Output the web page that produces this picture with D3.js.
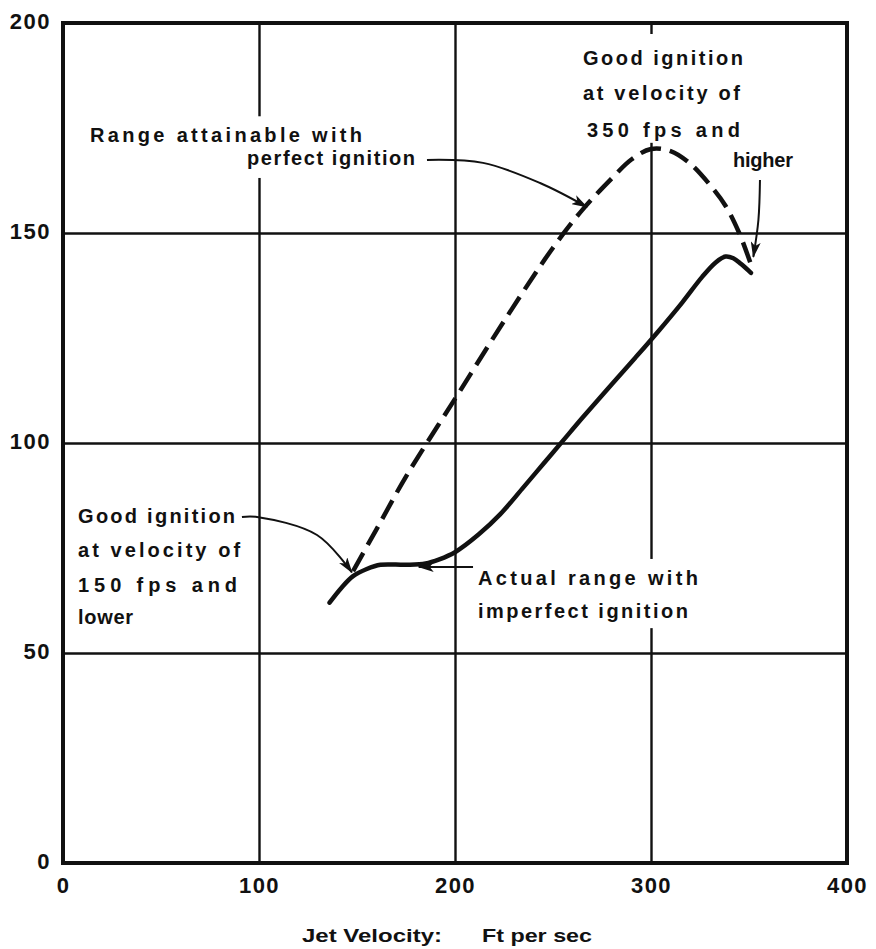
<!DOCTYPE html>
<html>
<head>
<meta charset="utf-8">
<script src="https://cdn.jsdelivr.net/npm/d3@7"></script>
<style>
  body { margin: 0; background: #fff; }
  svg text { font-family: "Liberation Sans", Arial, sans-serif; font-weight: bold; fill: #111; }
</style>
</head>
<body>
<div id="chart"></div>
<script>
// range curves (x = jet velocity ft/sec, y = range)
let perfect_x = [148, 160, 175, 200, 225, 250, 265, 280, 290, 300, 310, 320, 330, 338, 345, 351];
let perfect_y = [69.5, 79.5, 92, 110.5, 129, 146.5, 155.5, 163, 167.5, 170, 169.5, 166.5, 161.5, 156.5, 150, 142.5];
let actual_x = [136, 142, 148, 155, 162, 175, 185, 192, 200, 212, 223, 235, 245, 255, 265, 280, 292, 303, 316, 326, 333, 338, 342, 346, 351];
let actual_y = [62, 65.5, 68.3, 70, 71, 71, 71.3, 72.3, 74, 78.2, 83, 89.5, 95, 100.5, 106, 114, 120.3, 126.2, 133.5, 139.5, 143, 144.4, 144, 142.6, 140.5];
let x_ticks = [0, 100, 200, 300, 400];
let y_ticks = [0, 50, 100, 150, 200];
let x_title = ["Jet Velocity:", "Ft per sec"];

let chart_width = 876;
let chart_height = 949;
let margin = { top: 23, right: 29, bottom: 86, left: 63 };
let w = chart_width - margin.left - margin.right;
let h = chart_height - margin.top - margin.bottom;

let svg = d3.select("#chart").append("svg")
  .attr("width", chart_width)
  .attr("height", chart_height);

let x_scale = d3.scaleLinear().domain([0, 400]).range([margin.left, margin.left + w]);
let y_scale = d3.scaleLinear().domain([0, 200]).range([margin.top + h, margin.top]);

// arrow head
svg.append("defs").append("marker")
  .attr("id", "head")
  .attr("markerUnits", "userSpaceOnUse")
  .attr("viewBox", "0 0 16 10")
  .attr("markerWidth", 16).attr("markerHeight", 10)
  .attr("refX", 15).attr("refY", 5)
  .attr("orient", "auto")
  .append("path").attr("d", "M0,0 L16,5 L0,10 L4,5 Z").attr("fill", "#111");

/* grid */
let gx = svg.append("g")
  .attr("transform", "translate(0," + (margin.top + h) + ")")
  .call(d3.axisBottom(x_scale).tickValues(x_ticks).tickSize(-h).tickPadding(14));
let gy = svg.append("g")
  .attr("transform", "translate(" + margin.left + ",0)")
  .call(d3.axisLeft(y_scale).tickValues(y_ticks).tickSize(-w).tickPadding(12));
[gx, gy].forEach(function (g) {
  g.select(".domain").remove();
  g.selectAll(".tick line").attr("stroke", "#111").attr("stroke-width", 2.4);
  g.selectAll(".tick text")
    .attr("font-size", 22)
    .attr("letter-spacing", 1.5)
    .attr("fill", "#111")
    .attr("font-family", "Liberation Sans, Arial, sans-serif")
    .attr("font-weight", "bold");
});
gy.selectAll(".tick text").attr("dy", "0.25em");

// frame
svg.append("rect")
  .attr("x", margin.left).attr("y", margin.top)
  .attr("width", w).attr("height", h)
  .attr("fill", "none").attr("stroke", "#111").attr("stroke-width", 4);

// axis title
svg.append("text").attr("x", 302).attr("y", 942).attr("font-size", 19)
  .attr("textLength", 140).attr("lengthAdjust", "spacingAndGlyphs").text(x_title[0]);
svg.append("text").attr("x", 482).attr("y", 942).attr("font-size", 19)
  .attr("textLength", 110).attr("lengthAdjust", "spacingAndGlyphs").text(x_title[1]);

/* annotations: text blocks (data units), with white backing that breaks the grid */
let notes = [
  { lines: [["Range attainable with", 13.8, 171.6, 272], ["perfect ignition", 93.9, 166.2, 168]], pad: [8, 4, 9, 6] },
  { lines: [["Good ignition", 265.3, 190, 160], ["at velocity of", 265.3, 181.7, 157], ["350 fps and", 267.3, 172.9, 153]], pad: [13, 6, 2, 6] },
  { lines: [["higher", 341.8, 165.6, 60]], pad: [3, 3, 3, 3] },
  { lines: [["Good ignition", 7.7, 81, 157], ["at velocity of", 7.7, 72.9, 162], ["150 fps and", 7.7, 64.5, 159], ["lower", 7.7, 56.9, 55]], pad: [3, 3, 3, 3] },
  { lines: [["Actual range with", 211.7, 66.2, 220], ["imperfect ignition", 211.7, 58.3, 210]], pad: [8, 4, 6, 6] }
];

notes.forEach(function (n) {
  let g = svg.append("g");
  n.lines.forEach(function (l) {
    g.append("text")
      .attr("x", x_scale(l[1])).attr("y", y_scale(l[2]))
      .attr("font-size", 20)
      .attr("textLength", l[3]).attr("lengthAdjust", "spacing")
      .text(l[0]);
  });
  let b = g.node().getBBox();
  g.insert("rect", "text")
    .attr("x", b.x - n.pad[3]).attr("y", b.y - n.pad[0])
    .attr("width", b.width + n.pad[1] + n.pad[3])
    .attr("height", b.height + n.pad[0] + n.pad[2])
    .attr("fill", "#fff");
});

/* curves */
let line = d3.line()
  .x(function (d) { return x_scale(d[0]); })
  .y(function (d) { return y_scale(d[1]); })
  .curve(d3.curveCatmullRom.alpha(0.5));

svg.append("path")
  .datum(d3.zip(perfect_x, perfect_y))
  .attr("d", line)
  .attr("fill", "none").attr("stroke", "#111")
  .attr("stroke-width", 4.5).attr("stroke-dasharray", "21,9");

svg.append("path")
  .datum(d3.zip(actual_x, actual_y))
  .attr("d", line)
  .attr("fill", "none").attr("stroke", "#111")
  .attr("stroke-width", 4.5).attr("stroke-linecap", "round");

// leader arrows (data units)
let arrows = [
  [[185.7, 167.4], [214.3, 166.7], [243.4, 161.9], [267.3, 156.2]],
  [[355.6, 162.6], [354.8, 153.1], [352.2, 144.3]],
  [[91.3, 82.4], [99, 82.4], [129.6, 78.1], [147.4, 69.2]],
  [[209.2, 70.5], [181.5, 70.5]]
];
arrows.forEach(function (a) {
  svg.append("path")
    .datum(a)
    .attr("d", line)
    .attr("fill", "none").attr("stroke", "#111").attr("stroke-width", 2)
    .attr("marker-end", "url(#head)");
});
</script>
</body>
</html>
